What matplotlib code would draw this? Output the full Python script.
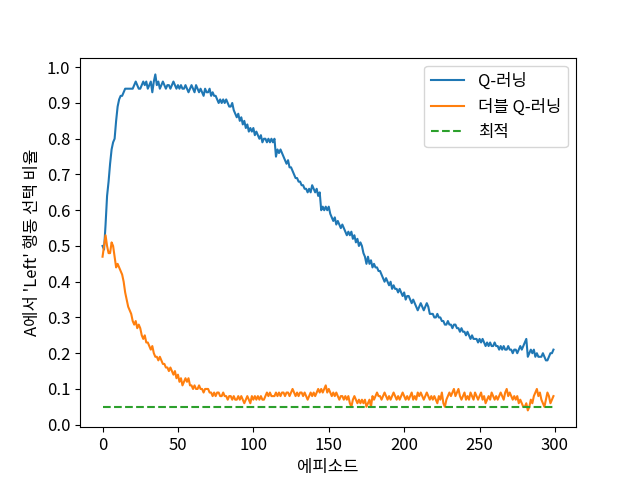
import matplotlib
matplotlib.use("Agg")
import matplotlib.pyplot as plt
import numpy as np

plt.rcParams['font.family'] = ['Noto Sans CJK KR', 'DejaVu Sans']
plt.rcParams['font.size'] = 12
plt.rcParams['axes.unicode_minus'] = False

q_learning = [
    0.50, 0.49, 0.56, 0.64, 0.68, 0.73, 0.77, 0.79, 0.80, 0.85,
    0.89, 0.91, 0.92, 0.92, 0.93, 0.94, 0.94, 0.94, 0.94, 0.94,
    0.94, 0.95, 0.96, 0.95, 0.94, 0.94, 0.95, 0.96, 0.95, 0.96,
    0.94, 0.95, 0.96, 0.93, 0.96, 0.98, 0.95, 0.96, 0.94, 0.95,
    0.96, 0.95, 0.94, 0.95, 0.95, 0.94, 0.95, 0.96, 0.95, 0.94,
    0.95, 0.94, 0.95, 0.94, 0.94, 0.95, 0.94, 0.93, 0.94, 0.95,
    0.94, 0.93, 0.95, 0.94, 0.93, 0.94, 0.93, 0.92, 0.94, 0.93,
    0.93, 0.94, 0.92, 0.93, 0.92, 0.92, 0.91, 0.90, 0.91, 0.90,
    0.91, 0.90, 0.91, 0.90, 0.89, 0.89, 0.90, 0.88, 0.87, 0.86,
    0.87, 0.85, 0.86, 0.84, 0.85, 0.83, 0.84, 0.82, 0.83, 0.82,
    0.83, 0.81, 0.82, 0.81, 0.80, 0.81, 0.79, 0.80, 0.80, 0.79,
    0.80, 0.79, 0.80, 0.79, 0.80, 0.75, 0.77, 0.76, 0.77, 0.76,
    0.75, 0.74, 0.73, 0.74, 0.72, 0.72, 0.71, 0.70, 0.69, 0.69,
    0.68, 0.68, 0.67, 0.67, 0.66, 0.66, 0.65, 0.66, 0.65, 0.67,
    0.66, 0.65, 0.66, 0.64, 0.65, 0.60, 0.61, 0.60, 0.61, 0.60,
    0.61, 0.59, 0.58, 0.57, 0.58, 0.56, 0.57, 0.56, 0.55, 0.56,
    0.55, 0.54, 0.53, 0.54, 0.53, 0.54, 0.52, 0.53, 0.51, 0.52,
    0.50, 0.51, 0.50, 0.48, 0.47, 0.45, 0.47, 0.45, 0.46, 0.44,
    0.45, 0.44, 0.44, 0.43, 0.43, 0.42, 0.41, 0.40, 0.41, 0.40,
    0.39, 0.40, 0.38, 0.39, 0.38, 0.38, 0.37, 0.38, 0.37, 0.36,
    0.37, 0.35, 0.36, 0.36, 0.35, 0.34, 0.35, 0.34, 0.33, 0.32,
    0.33, 0.34, 0.33, 0.32, 0.33, 0.34, 0.33, 0.31, 0.31, 0.31,
    0.30, 0.30, 0.31, 0.30, 0.30, 0.29, 0.29, 0.28, 0.28, 0.29,
    0.28, 0.28, 0.27, 0.28, 0.28, 0.27, 0.27, 0.26, 0.27, 0.26,
    0.26, 0.25, 0.26, 0.25, 0.24, 0.25, 0.24, 0.24, 0.24, 0.23,
    0.24, 0.23, 0.24, 0.23, 0.22, 0.23, 0.22, 0.23, 0.22, 0.22,
    0.23, 0.22, 0.22, 0.21, 0.22, 0.21, 0.22, 0.21, 0.21, 0.22,
    0.21, 0.21, 0.20, 0.21, 0.21, 0.20, 0.21, 0.22, 0.21, 0.22,
    0.23, 0.24, 0.19, 0.20, 0.21, 0.20, 0.21, 0.19, 0.20, 0.19,
    0.19, 0.19, 0.20, 0.19, 0.18, 0.18, 0.19, 0.20, 0.20, 0.21,
]

double_q_learning = [
    0.47, 0.50, 0.53, 0.50, 0.48, 0.48, 0.51, 0.50, 0.47, 0.44,
    0.45, 0.44, 0.43, 0.42, 0.40, 0.37, 0.35, 0.33, 0.32, 0.31,
    0.29, 0.28, 0.29, 0.27, 0.28, 0.27, 0.25, 0.24, 0.25, 0.23,
    0.23, 0.22, 0.21, 0.22, 0.20, 0.19, 0.19, 0.18, 0.19, 0.18,
    0.17, 0.17, 0.16, 0.16, 0.15, 0.16, 0.15, 0.14, 0.15, 0.13,
    0.14, 0.12, 0.13, 0.11, 0.12, 0.13, 0.12, 0.13, 0.11, 0.11,
    0.10, 0.11, 0.10, 0.10, 0.11, 0.10, 0.10, 0.09, 0.10, 0.10,
    0.10, 0.09, 0.09, 0.08, 0.09, 0.08, 0.09, 0.09, 0.08, 0.08,
    0.09, 0.08, 0.08, 0.07, 0.08, 0.08, 0.07, 0.08, 0.07, 0.07,
    0.08, 0.07, 0.08, 0.07, 0.06, 0.07, 0.08, 0.07, 0.06, 0.08,
    0.07, 0.08, 0.07, 0.08, 0.07, 0.08, 0.07, 0.07, 0.08, 0.09,
    0.08, 0.09, 0.08, 0.08, 0.08, 0.09, 0.08, 0.09, 0.08, 0.09,
    0.09, 0.08, 0.09, 0.09, 0.08, 0.09, 0.10, 0.09, 0.08, 0.09,
    0.08, 0.09, 0.09, 0.08, 0.09, 0.08, 0.07, 0.08, 0.09, 0.08,
    0.09, 0.08, 0.09, 0.10, 0.09, 0.10, 0.09, 0.10, 0.11, 0.09,
    0.10, 0.09, 0.08, 0.09, 0.08, 0.09, 0.08, 0.07, 0.08, 0.08,
    0.07, 0.08, 0.07, 0.08, 0.06, 0.05, 0.07, 0.08, 0.07, 0.06,
    0.07, 0.06, 0.07, 0.06, 0.07, 0.05, 0.06, 0.07, 0.05, 0.08,
    0.07, 0.08, 0.09, 0.08, 0.08, 0.07, 0.08, 0.09, 0.08, 0.07,
    0.08, 0.07, 0.08, 0.09, 0.08, 0.07, 0.08, 0.07, 0.08, 0.09,
    0.08, 0.07, 0.08, 0.07, 0.08, 0.09, 0.07, 0.08, 0.07, 0.09,
    0.08, 0.09, 0.08, 0.07, 0.08, 0.09, 0.08, 0.07, 0.08, 0.07,
    0.08, 0.07, 0.06, 0.08, 0.07, 0.09, 0.06, 0.05, 0.07, 0.08,
    0.09, 0.08, 0.09, 0.10, 0.08, 0.09, 0.10, 0.08, 0.07, 0.08,
    0.09, 0.07, 0.08, 0.07, 0.09, 0.08, 0.07, 0.09, 0.08, 0.07,
    0.08, 0.09, 0.07, 0.08, 0.06, 0.07, 0.08, 0.07, 0.09, 0.08,
    0.07, 0.08, 0.07, 0.08, 0.09, 0.08, 0.07, 0.09, 0.10, 0.08,
    0.09, 0.08, 0.07, 0.08, 0.07, 0.08, 0.06, 0.07, 0.06, 0.05,
    0.05, 0.06, 0.04, 0.05, 0.07, 0.06, 0.08, 0.09, 0.10, 0.08,
    0.09, 0.07, 0.06, 0.05, 0.07, 0.09, 0.08, 0.06, 0.07, 0.08,
]

optimal_value = 0.05
labels = ['Q-러닝', '더블 Q-러닝', '최적']

episodes = np.arange(len(q_learning))

fig, ax = plt.subplots(figsize=(6.4, 4.8), dpi=100)
ax.plot(episodes, q_learning, label=labels[0])
ax.plot(episodes, double_q_learning, label=labels[1])
ax.plot(episodes, np.full(len(episodes), optimal_value), '--', label=labels[2])
ax.set_xlabel('에피소드')
ax.set_ylabel("A에서 'Left' 행동 선택 비율")
ax.set_yticks(np.arange(0, 1.01, 0.1))
ax.legend()
fig.savefig('out.png')
